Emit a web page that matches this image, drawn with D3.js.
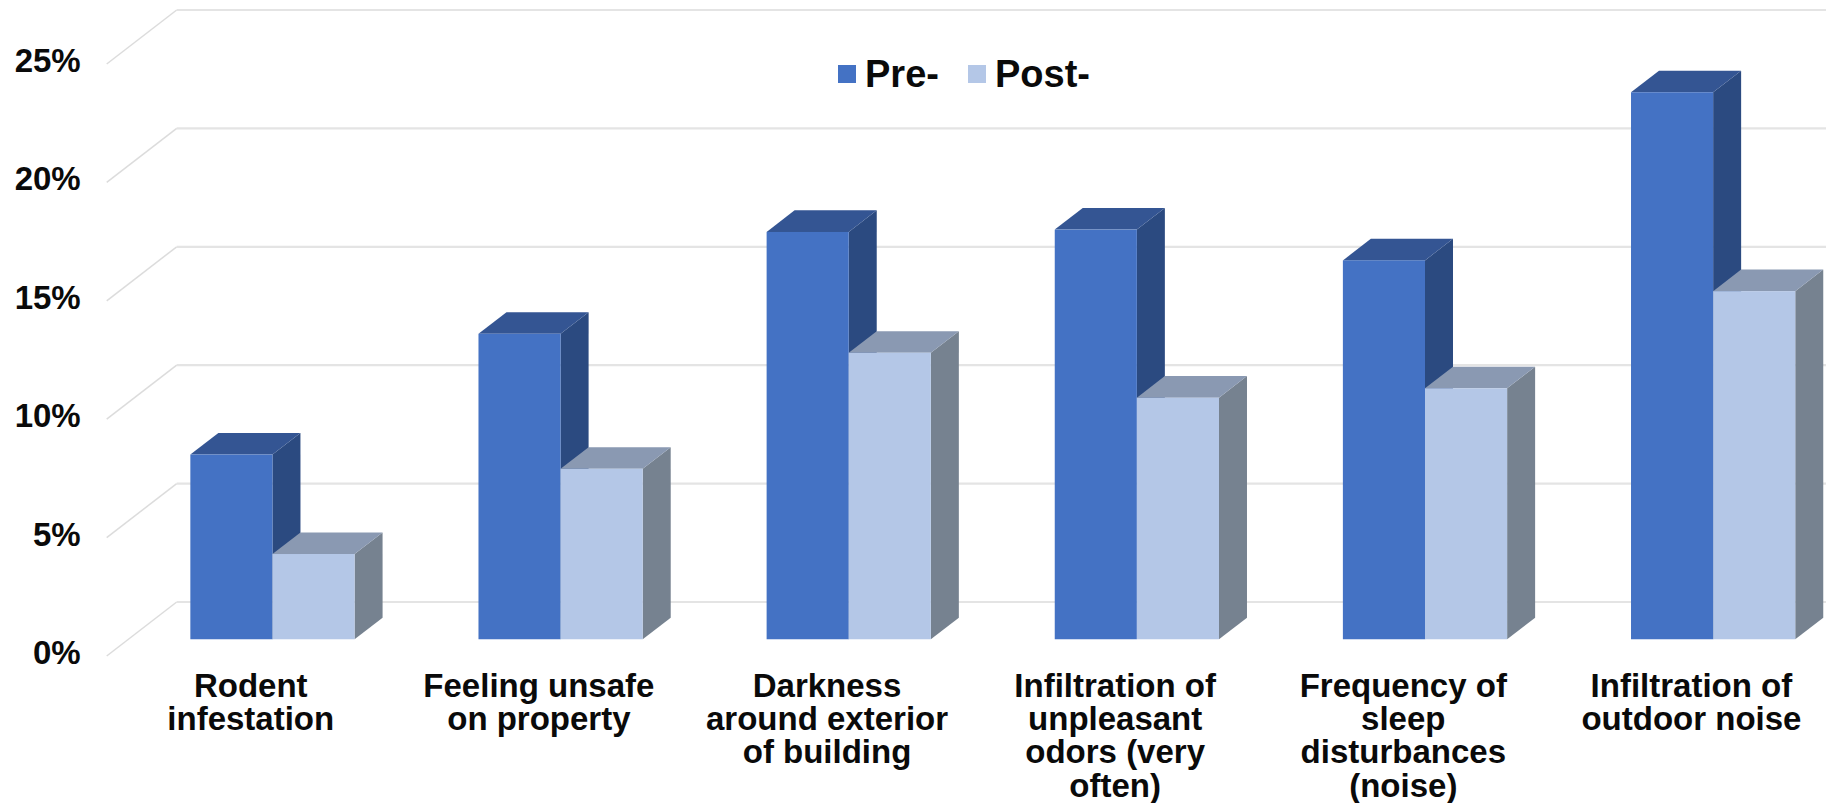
<!DOCTYPE html>
<html>
<head>
<meta charset="utf-8">
<script src="https://cdn.jsdelivr.net/npm/d3@7.9.0/dist/d3.min.js"></script>
<style>
  html, body { margin: 0; padding: 0; background: #fff; }
  svg { display: block; }
  text { font-family: "Liberation Sans", Arial, sans-serif; font-weight: 700; fill: #0a0a0a; }
</style>
</head>
<body>
<div id="chart"></div>
<script>
const categories = [
  ['Rodent', 'infestation'],
  ['Feeling unsafe', 'on property'],
  ['Darkness', 'around exterior', 'of building'],
  ['Infiltration of', 'unpleasant', 'odors (very', 'often)'],
  ['Frequency of', 'sleep', 'disturbances', '(noise)'],
  ['Infiltration of', 'outdoor noise'],
];
const preValues = [7.8, 12.9, 17.2, 17.3, 16.0, 23.1];
const postValues = [3.6, 7.2, 12.1, 10.2, 10.6, 14.7];
const yTicks = [0, 5, 10, 15, 20, 25];
const seriesNames = ['Pre-', 'Post-'];

const width = 1826;
const height = 803;

const svg = d3.select('#chart').append('svg')
  .attr('width', width)
  .attr('height', height);

const xScale = d3.scaleBand()
  .domain(d3.range(categories.length))
  .range([106.7, 1835.5])
  .paddingInner(0.43)
  .paddingOuter(0.215);

const yScale = d3.scaleLinear()
  .domain([0, 25])
  .range([656, 64]);

const seriesScale = d3.scaleBand()
  .domain(seriesNames)
  .range([0, xScale.bandwidth()]);

// fake 3d: floor goes this far right and up from front to back
const depthX = 70;
const depthY = -54;
const barFront = 0.31;
const barBack = 0.71;

const grid = svg.append('g');
yTicks.forEach((t) => {
  grid.append('line')
    .attr('x1', 106.7)
    .attr('y1', yScale(t))
    .attr('x2', 106.7 + depthX)
    .attr('y2', yScale(t) + depthY)
    .attr('stroke', '#dcdcdc')
    .attr('stroke-width', 1.5);
  grid.append('line')
    .attr('x1', 106.7 + depthX)
    .attr('y1', yScale(t) + depthY)
    .attr('x2', width)
    .attr('y2', yScale(t) + depthY)
    .attr('stroke', '#e4e4e4')
    .attr('stroke-width', 2.2);
});

const yAxis = d3.axisLeft(yScale)
  .tickValues(yTicks)
  .tickSize(0)
  .tickPadding(26)
  .tickFormat((d) => d + '%');

svg.append('g')
  .attr('transform', 'translate(106.7,-3)')
  .call(yAxis)
  .call((g) => g.select('.domain').remove())
  .selectAll('text')
  .attr('font-size', 33)
  .attr('font-family', '"Liberation Sans", Arial, sans-serif');

const seriesColors = {
  'Pre-': { front: '#4472c4', top: '#345593', side: '#2b4a80' },
  'Post-': { front: '#b4c7e7', top: '#8a99b2', side: '#768290' },
};

const polygon = (pts) => pts.map((p) => p.join(',')).join(' ');

function drawBar(g, name, cat, value) {
  const colors = seriesColors[name];
  const left = xScale(cat) + seriesScale(name) + depthX * barFront;
  const right = left + seriesScale.bandwidth();
  const bottom = yScale(0) + depthY * barFront;
  const top = yScale(value) + depthY * barFront;
  const dx = depthX * (barBack - barFront);
  const dy = depthY * (barBack - barFront);

  g.append('polygon')
    .attr('points', polygon([[right, bottom], [right + dx, bottom + dy], [right + dx, top + dy], [right, top]]))
    .attr('fill', colors.side);
  g.append('polygon')
    .attr('points', polygon([[left, top], [left + dx, top + dy], [right + dx, top + dy], [right, top]]))
    .attr('fill', colors.top);
  g.append('rect')
    .attr('x', left)
    .attr('y', top)
    .attr('width', right - left)
    .attr('height', bottom - top)
    .attr('fill', colors.front);
}

const bars = svg.append('g');
categories.forEach((c, i) => {
  drawBar(bars, 'Pre-', i, preValues[i]);
  drawBar(bars, 'Post-', i, postValues[i]);
});

const labels = svg.append('g');
categories.forEach((lines, i) => {
  const text = labels.append('text')
    .attr('text-anchor', 'middle')
    .attr('font-size', 33);
  lines.forEach((line, j) => {
    text.append('tspan')
      .attr('x', xScale(i) + xScale.bandwidth() / 2)
      .attr('y', 697 + j * 33.2)
      .text(line);
  });
});

const legendX = [838, 968];
const legend = svg.append('g');
seriesNames.forEach((name, i) => {
  legend.append('rect')
    .attr('x', legendX[i])
    .attr('y', 65)
    .attr('width', 18)
    .attr('height', 18)
    .attr('fill', seriesColors[name].front);
  legend.append('text')
    .attr('x', legendX[i] + 27)
    .attr('y', 87)
    .attr('font-size', 38)
    .text(name);
});
</script>
</body>
</html>
